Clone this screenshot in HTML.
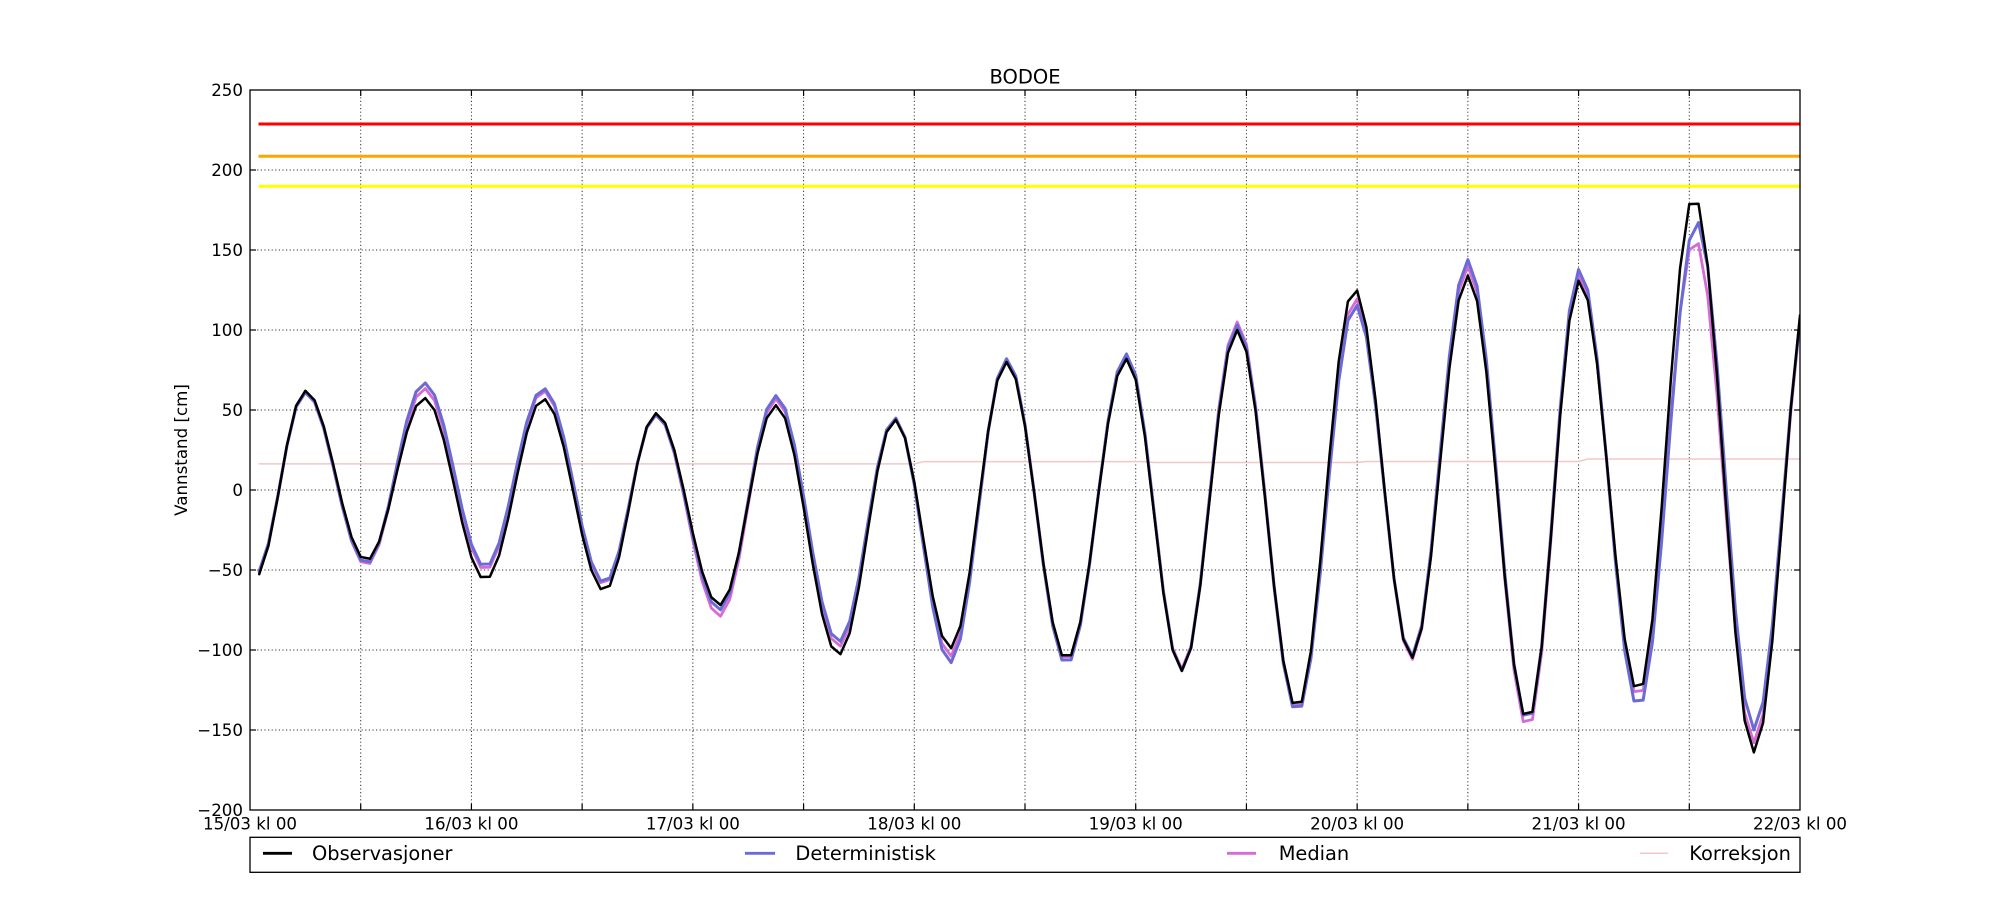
<!DOCTYPE html>
<html>
<head>
<meta charset="utf-8">
<style>
  html, body { margin: 0; padding: 0; background: #ffffff; }
  svg { display: block; font-family: "DejaVu Sans", "Liberation Sans", sans-serif; }
</style>
</head>
<body>
<svg width="2000" height="900" viewBox="0 0 2000 900" xmlns="http://www.w3.org/2000/svg">
  <rect x="0" y="0" width="2000" height="900" fill="#ffffff"/>
  <defs>
    <clipPath id="plotclip"><rect x="250" y="90" width="1550" height="720"/></clipPath>
  </defs>

  <!-- grid lines -->
  <g stroke="#333" stroke-width="1" stroke-dasharray="1.2 2.4" fill="none">
    <line x1="250" y1="170" x2="1800" y2="170"/>
    <line x1="250" y1="250" x2="1800" y2="250"/>
    <line x1="250" y1="330" x2="1800" y2="330"/>
    <line x1="250" y1="410" x2="1800" y2="410"/>
    <line x1="250" y1="490" x2="1800" y2="490"/>
    <line x1="250" y1="570" x2="1800" y2="570"/>
    <line x1="250" y1="650" x2="1800" y2="650"/>
    <line x1="250" y1="730" x2="1800" y2="730"/>
    <line x1="360.71" y1="90" x2="360.71" y2="810"/>
    <line x1="471.43" y1="90" x2="471.43" y2="810"/>
    <line x1="582.14" y1="90" x2="582.14" y2="810"/>
    <line x1="692.86" y1="90" x2="692.86" y2="810"/>
    <line x1="803.57" y1="90" x2="803.57" y2="810"/>
    <line x1="914.29" y1="90" x2="914.29" y2="810"/>
    <line x1="1025" y1="90" x2="1025" y2="810"/>
    <line x1="1135.71" y1="90" x2="1135.71" y2="810"/>
    <line x1="1246.43" y1="90" x2="1246.43" y2="810"/>
    <line x1="1357.14" y1="90" x2="1357.14" y2="810"/>
    <line x1="1467.86" y1="90" x2="1467.86" y2="810"/>
    <line x1="1578.57" y1="90" x2="1578.57" y2="810"/>
    <line x1="1689.29" y1="90" x2="1689.29" y2="810"/>
  </g>

  <!-- threshold lines -->
  <g stroke-width="3" fill="none">
    <line x1="258.5" y1="124" x2="1800" y2="124" stroke="#ff0000"/>
    <line x1="258.5" y1="156.3" x2="1800" y2="156.3" stroke="#ffa500"/>
    <line x1="258.5" y1="186.3" x2="1800" y2="186.3" stroke="#ffff00"/>
  </g>

  <g clip-path="url(#plotclip)">
    <g transform="translate(250 490) scale(9.22619 -1.6)" fill="none" stroke-linejoin="round" stroke-linecap="round">
      <!-- Korreksjon -->
      <path vector-effect="non-scaling-stroke" stroke="#f0c8c8" stroke-width="1.5"
        d="M1 16.3 L72 16.3 L73 17.7 L97 17.7 L98 17.2 L120 17.2 L121 17.8 L144 17.8 L145 19.4 L168 19.4"/>
      <!-- Median -->
      <path id="pM" vector-effect="non-scaling-stroke" stroke="#d66bd6" stroke-width="2.8"
        d="M1 -51 C2.67 -28 4.18 61 6 61
        C8.40 61 10.20 -47 12.6 -47
        C14.89 -47 16.61 63.5 18.9 63.5
        C21.30 63.5 23.10 -50 25.5 -50
        C27.79 -50 29.51 62 31.8 62
        C34.20 62 36.00 -59 38.4 -59
        C40.44 -59 41.96 47 44 47
        C46.51 47 48.39 -79 50.9 -79
        C53.12 -79 54.78 57 57 57
        C59.47 57 61.33 -98 63.8 -98
        C66.02 -98 67.68 45 69.9 45
        C72.08 45 73.72 -104 75.9 -104
        C78.12 -104 79.78 82 82 82
        C84.36 82 86.14 -106 88.5 -106
        C90.86 -106 92.64 84 95 84
        C97.18 84 98.82 -112 101 -112
        C103.18 -112 104.82 105 107 105
        C109.36 105 111.14 -135 113.5 -135
        C115.79 -135 117.51 120 119.8 120
        C122.02 120 123.68 -106 125.9 -106
        C128.12 -106 129.78 140 132 140
        C134.36 140 136.14 -146 138.5 -146
        C140.54 -146 142.06 134 144.1 134
        C146.43 134 148.17 -128 150.5 -128
        C152.72 -128 154.38 156 156.6 156
        C158.93 156 160.67 -158 163 -158
        C164.8 -158 166.5 40 168 105"/>
      <!-- Deterministisk -->
      <path id="pD" vector-effect="non-scaling-stroke" stroke="#6b6bd7" stroke-width="3"
        d="M1 -50 C2.67 -27 4.18 61 6 61
        C8.40 61 10.20 -46 12.6 -46
        C14.89 -46 16.61 67 18.9 67
        C21.30 67 23.10 -48 25.5 -48
        C27.79 -48 29.51 63.5 31.8 63.5
        C34.20 63.5 36.00 -58 38.4 -58
        C40.44 -58 41.96 47 44 47
        C46.51 47 48.39 -75 50.9 -75
        C53.12 -75 54.78 59 57 59
        C59.47 59 61.33 -95 63.8 -95
        C66.02 -95 67.68 45 69.9 45
        C72.08 45 73.72 -108 75.9 -108
        C78.12 -108 79.78 82 82 82
        C84.36 82 86.14 -108 88.5 -108
        C90.86 -108 92.64 85 95 85
        C97.18 85 98.82 -113 101 -113
        C103.18 -113 104.82 103 107 103
        C109.36 103 111.14 -136 113.5 -136
        C115.79 -136 117.51 116 119.8 116
        C122.02 116 123.68 -104 125.9 -104
        C128.12 -104 129.78 144 132 144
        C134.36 144 136.14 -142 138.5 -142
        C140.54 -142 142.06 138 144.1 138
        C146.43 138 148.17 -134 150.5 -134
        C152.79 -134 154.51 168 156.8 168
        C159.05 168 160.75 -150 163 -150
        C164.8 -150 166.5 42 168 107"/>
      <!-- Observasjoner -->
      <path id="pO" vector-effect="non-scaling-stroke" stroke="#000000" stroke-width="2.5"
        d="M1 -52 C2.67 -29.3 4.18 62 6 62
        C8.40 62 10.20 -44 12.6 -44
        C14.89 -44 16.61 57.5 18.9 57.5
        C21.30 57.5 23.10 -56 25.5 -56
        C27.79 -56 29.51 57 31.8 57
        C34.20 57 36.00 -63 38.4 -63
        C40.44 -63 41.96 48 44 48
        C46.51 48 48.39 -72 50.9 -72
        C53.12 -72 54.78 53 57 53
        C59.47 53 61.33 -103 63.8 -103
        C66.02 -103 67.68 44 69.9 44
        C72.08 44 73.72 -99 75.9 -99
        C78.12 -99 79.78 80 82 80
        C84.36 80 86.14 -105 88.5 -105
        C90.86 -105 92.64 82 95 82
        C97.18 82 98.82 -113 101 -113
        C103.18 -113 104.82 100 107 100
        C109.36 100 111.14 -134 113.5 -134
        C115.79 -134 117.51 125 119.8 125
        C122.02 125 123.68 -105 125.9 -105
        C128.12 -105 129.78 134 132 134
        C134.36 134 136.14 -142 138.5 -142
        C140.54 -142 142.06 131 144.1 131
        C146.43 131 148.17 -125 150.5 -125
        C152.68 -125 154.32 180 156.5 180
        C158.86 180 160.64 -164 163 -164
        C164.8 -164 166.5 39 168 107"/>
    </g>
  </g>

  <!-- ticks -->
  <g stroke="#000" stroke-width="1.2">
    <line x1="250" y1="170" x2="256" y2="170"/><line x1="1800" y1="170" x2="1794" y2="170"/>
    <line x1="250" y1="250" x2="256" y2="250"/><line x1="1800" y1="250" x2="1794" y2="250"/>
    <line x1="250" y1="330" x2="256" y2="330"/><line x1="1800" y1="330" x2="1794" y2="330"/>
    <line x1="250" y1="410" x2="256" y2="410"/><line x1="1800" y1="410" x2="1794" y2="410"/>
    <line x1="250" y1="490" x2="256" y2="490"/><line x1="1800" y1="490" x2="1794" y2="490"/>
    <line x1="250" y1="570" x2="256" y2="570"/><line x1="1800" y1="570" x2="1794" y2="570"/>
    <line x1="250" y1="650" x2="256" y2="650"/><line x1="1800" y1="650" x2="1794" y2="650"/>
    <line x1="250" y1="730" x2="256" y2="730"/><line x1="1800" y1="730" x2="1794" y2="730"/>
    <line x1="360.71" y1="810" x2="360.71" y2="804"/><line x1="360.71" y1="90" x2="360.71" y2="96"/>
    <line x1="471.43" y1="810" x2="471.43" y2="804"/><line x1="471.43" y1="90" x2="471.43" y2="96"/>
    <line x1="582.14" y1="810" x2="582.14" y2="804"/><line x1="582.14" y1="90" x2="582.14" y2="96"/>
    <line x1="692.86" y1="810" x2="692.86" y2="804"/><line x1="692.86" y1="90" x2="692.86" y2="96"/>
    <line x1="803.57" y1="810" x2="803.57" y2="804"/><line x1="803.57" y1="90" x2="803.57" y2="96"/>
    <line x1="914.29" y1="810" x2="914.29" y2="804"/><line x1="914.29" y1="90" x2="914.29" y2="96"/>
    <line x1="1025" y1="810" x2="1025" y2="804"/><line x1="1025" y1="90" x2="1025" y2="96"/>
    <line x1="1135.71" y1="810" x2="1135.71" y2="804"/><line x1="1135.71" y1="90" x2="1135.71" y2="96"/>
    <line x1="1246.43" y1="810" x2="1246.43" y2="804"/><line x1="1246.43" y1="90" x2="1246.43" y2="96"/>
    <line x1="1357.14" y1="810" x2="1357.14" y2="804"/><line x1="1357.14" y1="90" x2="1357.14" y2="96"/>
    <line x1="1467.86" y1="810" x2="1467.86" y2="804"/><line x1="1467.86" y1="90" x2="1467.86" y2="96"/>
    <line x1="1578.57" y1="810" x2="1578.57" y2="804"/><line x1="1578.57" y1="90" x2="1578.57" y2="96"/>
    <line x1="1689.29" y1="810" x2="1689.29" y2="804"/><line x1="1689.29" y1="90" x2="1689.29" y2="96"/>
  </g>

  <!-- axes frame -->
  <rect x="250" y="90" width="1550" height="720" fill="none" stroke="#000" stroke-width="1.3"/>

  <!-- title -->
  <text x="1025" y="83.5" font-size="19.5" text-anchor="middle" fill="#000">BODOE</text>

  <!-- y tick labels -->
  <g font-size="16.67" text-anchor="end" fill="#000">
    <text x="243" y="96">250</text>
    <text x="243" y="176">200</text>
    <text x="243" y="256">150</text>
    <text x="243" y="336">100</text>
    <text x="243" y="416">50</text>
    <text x="243" y="496">0</text>
    <text x="243" y="576">−50</text>
    <text x="243" y="656">−100</text>
    <text x="243" y="736">−150</text>
    <text x="243" y="816">−200</text>
  </g>

  <!-- x tick labels -->
  <g font-size="16.67" text-anchor="middle" fill="#000">
    <text x="250" y="829.5">15/03 kl 00</text>
    <text x="471.43" y="829.5">16/03 kl 00</text>
    <text x="692.86" y="829.5">17/03 kl 00</text>
    <text x="914.29" y="829.5">18/03 kl 00</text>
    <text x="1135.71" y="829.5">19/03 kl 00</text>
    <text x="1357.14" y="829.5">20/03 kl 00</text>
    <text x="1578.57" y="829.5">21/03 kl 00</text>
    <text x="1800" y="829.5">22/03 kl 00</text>
  </g>

  <!-- y axis label -->
  <text transform="translate(187 450) rotate(-90)" font-size="16.67" text-anchor="middle" fill="#000">Vannstand [cm]</text>

  <!-- legend -->
  <rect x="250" y="837.3" width="1550" height="35" fill="#ffffff" stroke="#000" stroke-width="1.3"/>
  <g stroke-width="2.8">
    <line x1="263" y1="853.3" x2="292" y2="853.3" stroke="#000000"/>
    <line x1="745" y1="853.3" x2="775" y2="853.3" stroke="#6b6bd7"/>
    <line x1="1227" y1="853.3" x2="1256" y2="853.3" stroke="#d66bd6"/>
    <line x1="1640" y1="853.3" x2="1668" y2="853.3" stroke="#f0c8c8" stroke-width="1.5"/>
  </g>
  <g font-size="19.4" fill="#000">
    <text x="312" y="860">Observasjoner</text>
    <text x="795.4" y="860">Deterministisk</text>
    <text x="1278.7" y="860">Median</text>
    <text x="1689.3" y="860">Korreksjon</text>
  </g>
</svg>
<script>
(function(){
  var S = {
    pO: [[0.5,-55],[6,62],[12.6,-44],[18.9,57.5],[25.5,-56],[31.8,57],[38.4,-63],[44,48],[50.9,-72],[57,53],[63.8,-103],[69.9,44],[75.9,-99],[82,80],[88.5,-106],[95,82],[101,-113],[107,100],[113.5,-136.5],[119.7,126],[125.9,-105],[132,134],[138.5,-144],[144.1,131],[150.5,-126.5],[156.5,184],[163,-164],[169.3,140]],
    pD: [[0.5,-53],[6,61],[12.6,-46],[18.9,67],[25.5,-48],[31.8,63.5],[38.4,-58],[44,47],[50.9,-75],[57,59],[63.8,-95],[69.9,45],[75.9,-108],[82,82],[88.5,-109],[95,85],[101,-113],[107,103],[113.5,-139],[119.8,116],[125.9,-104],[132,144],[138.5,-145],[144.1,138],[150.5,-136],[156.8,168],[163,-150],[169.3,136]],
    pM: [[0.5,-54],[6,61],[12.6,-47],[18.9,63.5],[25.5,-50],[31.8,62],[38.4,-59],[44,47],[50.9,-79],[57,57],[63.8,-98],[69.9,45],[75.9,-104],[82,82],[88.5,-107],[95,84],[101,-112],[107,105],[113.5,-137.5],[119.8,120],[125.9,-106],[132,140],[138.5,-149],[144.1,134],[150.5,-130],[156.6,157],[163,-158],[169.3,135]]
  };
  function val(e, h){
    for (var i = 0; i < e.length - 1; i++){
      var t1 = e[i][0], v1 = e[i][1], t2 = e[i+1][0], v2 = e[i+1][1];
      if (h >= t1 && h <= t2){
        var f = (h - t1) / (t2 - t1);
        return v1 + (v2 - v1) * (1 - Math.cos(Math.PI * f)) / 2;
      }
    }
    return e[e.length-1][1];
  }
  try {
    for (var id in S){
      var el = document.getElementById(id);
      if (!el) continue;
      var d = [];
      for (var h = 1; h <= 168; h++){
        d.push((h === 1 ? "M" : "L") + h + " " + val(S[id], h).toFixed(2));
      }
      el.setAttribute("d", d.join(" "));
    }
  } catch (err) {}
})();
</script>
</body>
</html>
